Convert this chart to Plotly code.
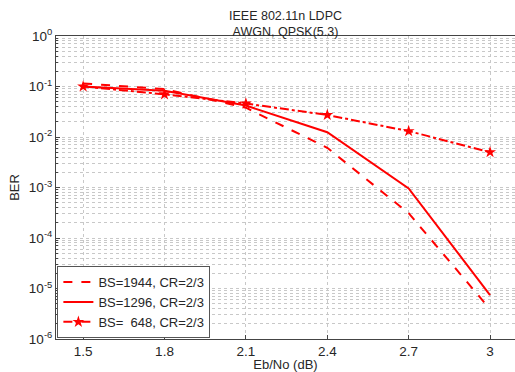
import plotly.graph_objects as go

ebno = [1.5, 1.8, 2.1, 2.4, 2.7, 3.0]
ber_1944 = [0.115, 0.089, 0.038, 0.0061, 3.1e-4, 3.9e-6]
ber_1296 = [0.10, 0.082, 0.042, 0.0124, 9.6e-4, 7.4e-6]
ber_648 = [0.10, 0.070, 0.046, 0.0273, 0.0131, 0.0050]
names = ["BS=1944, CR=2/3", "BS=1296, CR=2/3", "BS=\u00a0\u00a0648, CR=2/3"]

x_ticks = [1.5, 1.8, 2.1, 2.4, 2.7, 3.0]
x_ticklabels = ["1.5", "1.8", "2.1", "2.4", "2.7", "3"]
y_exps = [0, -1, -2, -3, -4, -5, -6]

red = "#ff0000"
fig = go.Figure()
fig.add_trace(go.Scatter(x=ebno, y=ber_1944, name=names[0], mode="lines",
                         line=dict(color=red, width=2, dash="dash")))
fig.add_trace(go.Scatter(x=ebno, y=ber_1296, name=names[1], mode="lines",
                         line=dict(color=red, width=2)))
fig.add_trace(go.Scatter(x=ebno, y=ber_648, name=names[2], mode="lines+markers",
                         line=dict(color=red, width=2, dash="dashdot"),
                         marker=dict(symbol="star", size=9, color=red)))

grid = "#c8c8c8"
fig.update_layout(
    width=515, height=372,
    margin=dict(l=56, r=0, t=36, b=33, autoexpand=False),
    paper_bgcolor="white", plot_bgcolor="white",
    font=dict(family="Liberation Sans, Arial, sans-serif", size=13, color="#262626"),
    title=dict(text="IEEE 802.11n LDPC<br>AWGN, QPSK(5.3)", x=0.5, xanchor="center",
               xref="paper", yref="container", y=0.947, yanchor="top",
               automargin=False,
               font=dict(size=12.5, color="#262626")),
    showlegend=True,
    legend=dict(x=0.003, y=0.003, xanchor="left", yanchor="bottom",
                bgcolor="white", bordercolor="#555555", borderwidth=1,
                font=dict(size=13, color="#262626"), tracegroupgap=0,
                itemwidth=30),
    xaxis=dict(range=[1.40, 3.092], tickvals=x_ticks, ticktext=x_ticklabels,
               automargin=False,
               showgrid=True, gridcolor=grid, griddash="dot", gridwidth=1,
               showline=True, linecolor="#444444", linewidth=1, mirror=True,
               ticks="inside", ticklen=4, tickcolor="#444444", zeroline=False,
               tickfont=dict(size=13.5),
               title=dict(text="Eb/No (dB)", standoff=2, font=dict(size=13))),
    yaxis=dict(type="log", range=[-6, 0], automargin=False,
               tickvals=[10 ** e for e in y_exps],
               ticktext=["10<sup>%d</sup>" % e for e in y_exps],
               showgrid=True, gridcolor=grid, griddash="dot", gridwidth=1,
               minor=dict(showgrid=True, gridcolor=grid, griddash="dot",
                          dtick="D1", ticks="inside", ticklen=2, tickcolor="#444444"),
               showline=True, linecolor="#444444", linewidth=1, mirror=True,
               ticks="inside", ticklen=4, tickcolor="#444444", zeroline=False,
               tickfont=dict(size=13.5),
               title=dict(text="BER", standoff=6, font=dict(size=13))),
)
fig.write_html("out.html", config={"displayModeBar": False},
               post_script="document.body.style.margin='0';")
